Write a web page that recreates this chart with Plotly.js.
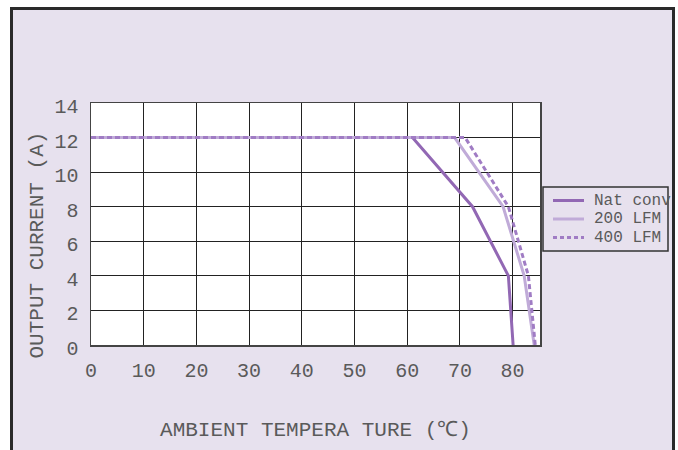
<!DOCTYPE html>
<html>
<head>
<meta charset="utf-8">
<script src="https://cdn.plot.ly/plotly-3.0.1.min.js"></script>
<style>
  html, body { margin: 0; padding: 0; background: #ffffff; overflow: hidden; }
  #frame { position: absolute; left: 10px; top: 7px; width: 665px; height: 460px;
           background: #e7e1ee; border: 3px solid #2a2a2a; box-sizing: border-box; }
  #chart { position: absolute; left: 0; top: 0; width: 678px; height: 450px; }
</style>
</head>
<body>
<div id="frame"></div>
<div id="chart"></div>
<script>
// Data
const seriesNames = ["Nat conv", "200 LFM", "400 LFM"];
const natConvTemp = [0, 61, 72.4, 79.2, 80.1];
const natConvCurrent = [12, 12, 8, 4, 0];
const lfm200Temp = [0, 69, 78.2, 82.2, 84.1];
const lfm200Current = [12, 12, 8, 4, 0];
const lfm400Temp = [0, 71, 79.2, 83, 84.3];
const lfm400Current = [12, 12, 8, 4, 0];
const xTicks = [0, 10, 20, 30, 40, 50, 60, 70, 80];
const yTicks = [0, 2, 4, 6, 8, 10, 12, 14];
const xTitle = "AMBIENT TEMPERA TURE (℃)";
const yTitle = "OUTPUT CURRENT (A)";

const FONT = "'Courier New', 'Liberation Mono', monospace";
const TEXT = "#5a5a5a";
const BG = "#e7e1ee";

const colors = ["#9268b4", "#c0abd8", "#a07cc4"];
const dashes = ["solid", "solid", "5px,3px"];

const W = 678, H = 450;
const M = { l: 91, r: 138, t: 103, b: 105 };
const PW = W - M.l - M.r, PH = H - M.t - M.b;
const px = v => (v - M.l) / PW;          // pixel x -> paper x
const py = v => (H - M.b - v) / PH;      // pixel y -> paper y

const series = [
  [natConvTemp, natConvCurrent],
  [lfm200Temp, lfm200Current],
  [lfm400Temp, lfm400Current]
];

const traces = series.map((s, i) => ({
  x: s[0], y: s[1], name: seriesNames[i], mode: "lines",
  line: { color: colors[i], width: 3, dash: dashes[i] }
}));

// Legend drawn as a box with sample lines and labels
const legendBox = { x0: 543, x1: 668, y0: 187, y1: 251 };
const rowY = [200.5, 219, 237.5];
const shapes = [
  { type: "rect", xref: "paper", yref: "paper",
    x0: px(legendBox.x0), x1: px(legendBox.x1), y0: py(legendBox.y1), y1: py(legendBox.y0),
    fillcolor: BG, line: { color: "#333333", width: 1.5 }, layer: "above" }
];
const annotations = [
  { text: yTitle, xref: "paper", yref: "paper", x: px(36.5), y: py(245),
    xanchor: "center", yanchor: "middle", showarrow: false, textangle: -90,
    font: { family: FONT, size: 21, color: TEXT } }
];
seriesNames.forEach((n, i) => {
  shapes.push({ type: "line", xref: "paper", yref: "paper",
    x0: px(553), x1: px(584), y0: py(rowY[i]), y1: py(rowY[i]),
    line: { color: colors[i], width: 3, dash: dashes[i] === "solid" ? "solid" : "4px,3px" },
    layer: "above" });
  annotations.push({ text: n, xref: "paper", yref: "paper", x: px(592), y: py(rowY[i]),
    xanchor: "left", yanchor: "middle", showarrow: false,
    font: { family: FONT, size: 16, color: TEXT } });
});

const layout = {
  width: W, height: H,
  margin: { l: M.l, r: M.r, t: M.t, b: M.b, pad: 0, autoexpand: false },
  paper_bgcolor: "rgba(0,0,0,0)",
  plot_bgcolor: "#ffffff",
  font: { family: FONT, color: TEXT, size: 20 },
  showlegend: false,
  xaxis: {
    range: [0, 85.2], tickvals: xTicks, ticktext: xTicks.map(String),
    showgrid: true, gridcolor: "#222222", gridwidth: 1,
    showline: true, linecolor: "#444444", linewidth: 1.5, mirror: true,
    zeroline: false, ticks: "", ticklabelstandoff: 6,
    tickfont: { family: FONT, size: 20, color: TEXT },
    title: { text: xTitle, standoff: 40, font: { family: FONT, size: 21, color: TEXT } }
  },
  yaxis: {
    range: [0, 14], tickvals: yTicks, ticktext: yTicks.map(String),
    showgrid: true, gridcolor: "#222222", gridwidth: 1,
    showline: true, linecolor: "#444444", linewidth: 1.5, mirror: true,
    zeroline: false, ticks: "", ticklabelstandoff: 7, ticklabelshift: 3,
    tickfont: { family: FONT, size: 20, color: TEXT }
  },
  shapes: shapes,
  annotations: annotations
};

Plotly.newPlot("chart", traces, layout, { displayModeBar: false, staticPlot: true });
</script>
</body>
</html>
